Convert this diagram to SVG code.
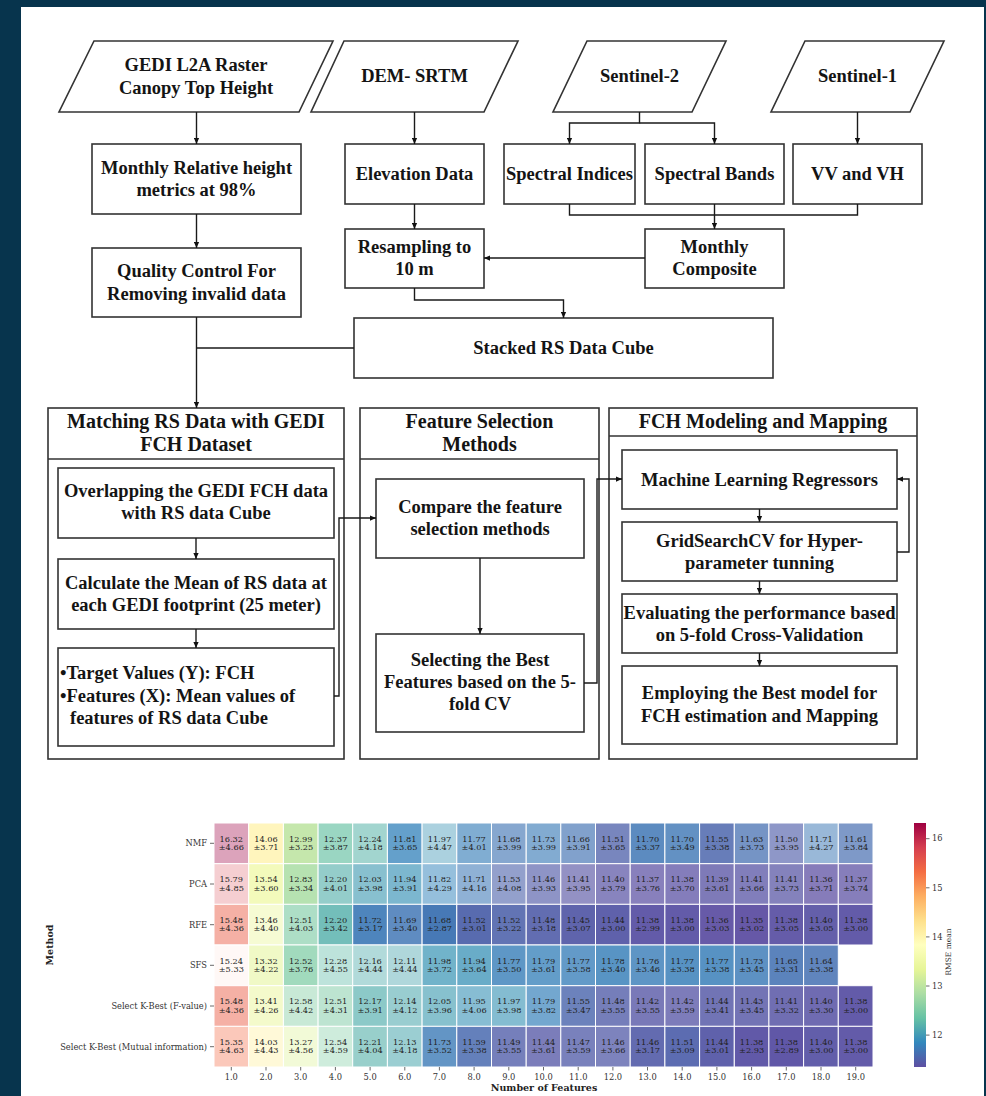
<svg xmlns="http://www.w3.org/2000/svg" width="986" height="1096" viewBox="0 0 986 1096">
<defs>
<style>
.t{font-family:"Liberation Serif","Times New Roman",serif;font-weight:bold;font-size:18.5px;fill:#141414;text-anchor:middle}
.tl{text-anchor:start}
.h{font-size:20px}
.box{fill:#fff;stroke:#333;stroke-width:1.6}
.ln{fill:none;stroke:#1a1a1a;stroke-width:1.4}
.arr{marker-end:url(#ah)}
.cell{stroke:#fff;stroke-width:1}
.v{font-family:"DejaVu Serif",serif;font-size:8.2px;fill:#222;text-anchor:middle}
.ax{font-family:"DejaVu Serif",serif;font-size:8.3px;fill:#333}
.axr{text-anchor:end}
.axc{text-anchor:middle}
.tick{stroke:#444;stroke-width:0.8}
.lab{font-family:"DejaVu Serif",serif;font-weight:bold;font-size:9.5px;fill:#222;text-anchor:middle}
</style>
<marker id="ah" viewBox="0 0 8 8" refX="8" refY="4" markerWidth="6" markerHeight="6" orient="auto" markerUnits="userSpaceOnUse">
<path d="M0,0.5 L8,4 L0,7.5 z" fill="#111"/>
</marker>
<linearGradient id="spectral" x1="0" y1="1" x2="0" y2="0">
<stop offset="0" stop-color="#5e4fa2"/>
<stop offset="0.1" stop-color="#3288bd"/>
<stop offset="0.2" stop-color="#66c2a5"/>
<stop offset="0.3" stop-color="#abdda4"/>
<stop offset="0.4" stop-color="#e6f598"/>
<stop offset="0.5" stop-color="#ffffbf"/>
<stop offset="0.6" stop-color="#fee08b"/>
<stop offset="0.7" stop-color="#fdae61"/>
<stop offset="0.8" stop-color="#f46d43"/>
<stop offset="0.9" stop-color="#d53e4f"/>
<stop offset="1" stop-color="#9e0142"/>
</linearGradient>
</defs>

<!-- page -->
<rect width="986" height="1096" fill="#07344d"/>
<rect x="21" y="7" width="963" height="1089" fill="#fff"/>

<!-- data sources -->
<g id="gedi">
<polygon class="box" points="94,41 333,41 299,112 59,112"/>
<text class="t" x="196" y="71">GEDI L2A Raster</text>
<text class="t" x="196" y="94">Canopy Top Height</text>
</g>
<g id="dem">
<polygon class="box" points="344,41 518,41 484,112 311,112"/>
<text class="t" x="414.5" y="82">DEM- SRTM</text>
</g>
<g id="s2">
<polygon class="box" points="587,41 726,41 692,112 553,112"/>
<text class="t" x="639.5" y="82">Sentinel-2</text>
</g>
<g id="s1">
<polygon class="box" points="805,41 944,41 910,112 771,112"/>
<text class="t" x="857.5" y="82">Sentinel-1</text>
</g>

<!-- preprocessing -->
<g id="rh98">
<rect class="box" x="92" y="144" width="209" height="70"/>
<text class="t" x="196.5" y="174">Monthly Relative height</text>
<text class="t" x="196.5" y="196">metrics at 98%</text>
</g>
<g id="elev">
<rect class="box" x="345" y="144" width="139" height="60"/>
<text class="t" x="414.5" y="180">Elevation Data</text>
</g>
<g id="indices">
<rect class="box" x="504" y="144" width="131" height="60"/>
<text class="t" x="569.5" y="180">Spectral Indices</text>
</g>
<g id="bands">
<rect class="box" x="645" y="144" width="139" height="60"/>
<text class="t" x="714.5" y="180">Spectral Bands</text>
</g>
<g id="vvvh">
<rect class="box" x="793" y="144" width="129" height="60"/>
<text class="t" x="857.5" y="180">VV and VH</text>
</g>
<g id="qc">
<rect class="box" x="92" y="248" width="209" height="69"/>
<text class="t" x="196.5" y="277">Quality Control For</text>
<text class="t" x="196.5" y="300">Removing invalid data</text>
</g>
<g id="resample">
<rect class="box" x="345" y="229" width="139" height="59"/>
<text class="t" x="414.5" y="253">Resampling to</text>
<text class="t" x="414.5" y="275">10 m</text>
</g>
<g id="composite">
<rect class="box" x="645" y="229" width="139" height="59"/>
<text class="t" x="714.5" y="253">Monthly</text>
<text class="t" x="714.5" y="275">Composite</text>
</g>
<g id="cube">
<rect class="box" x="354" y="318" width="419" height="60"/>
<text class="t" x="563.5" y="354">Stacked RS Data Cube</text>
</g>

<!-- stage panels -->
<g id="matching">
<rect class="box" x="48" y="408" width="296" height="351"/>
<line class="box" x1="48" y1="459" x2="344" y2="459"/>
<text class="t h" x="196" y="428">Matching RS Data with GEDI</text>
<text class="t h" x="196" y="451">FCH Dataset</text>
</g>
<g id="overlap">
<rect class="box" x="58" y="468" width="276" height="70"/>
<text class="t" x="196" y="497">Overlapping the GEDI FCH data</text>
<text class="t" x="196" y="519">with RS data Cube</text>
</g>
<g id="mean">
<rect class="box" x="58" y="559" width="276" height="70"/>
<text class="t" x="196" y="589">Calculate the Mean of RS data at</text>
<text class="t" x="196" y="611">each GEDI footprint (25 meter)</text>
</g>
<g id="xy">
<rect class="box" x="58" y="648" width="276" height="98"/>
<text class="t tl" x="60" y="679">•Target Values (Y): FCH</text>
<text class="t tl" x="60" y="702">•Features (X): Mean values of</text>
<text class="t tl" x="70" y="724">features of RS data Cube</text>
</g>

<g id="selection">
<rect class="box" x="360" y="408" width="239" height="351"/>
<line class="box" x1="360" y1="459" x2="599" y2="459"/>
<text class="t h" x="479.5" y="428">Feature Selection</text>
<text class="t h" x="479.5" y="451">Methods</text>
</g>
<g id="compare">
<rect class="box" x="376" y="479" width="208" height="79"/>
<text class="t" x="480" y="513">Compare the feature</text>
<text class="t" x="480" y="535">selection methods</text>
</g>
<g id="best">
<rect class="box" x="376" y="634" width="208" height="98"/>
<text class="t" x="480" y="666">Selecting the Best</text>
<text class="t" x="480" y="688">Features based on the 5-</text>
<text class="t" x="480" y="710">fold CV</text>
</g>

<g id="modeling">
<rect class="box" x="609" y="408" width="308" height="351"/>
<line class="box" x1="609" y1="436" x2="917" y2="436"/>
<text class="t h" x="763" y="428">FCH Modeling and Mapping</text>
</g>
<g id="ml">
<rect class="box" x="622" y="450" width="275" height="59"/>
<text class="t" x="759.5" y="486">Machine Learning Regressors</text>
</g>
<g id="grid">
<rect class="box" x="622" y="522" width="275" height="59"/>
<text class="t" x="759.5" y="547">GridSearchCV for Hyper-</text>
<text class="t" x="759.5" y="569">parameter tunning</text>
</g>
<g id="cv">
<rect class="box" x="622" y="594" width="275" height="59"/>
<text class="t" x="759.5" y="619">Evaluating the performance based</text>
<text class="t" x="759.5" y="641">on 5-fold Cross-Validation</text>
</g>
<g id="map">
<rect class="box" x="622" y="666" width="275" height="78"/>
<text class="t" x="759.5" y="699">Employing the Best model for</text>
<text class="t" x="759.5" y="722">FCH estimation and Mapping</text>
</g>

<!-- connectors -->
<g id="connectors">
<path class="ln arr" d="M196.5,112 V144"/>
<path class="ln arr" d="M414.5,112 V144"/>
<path class="ln arr" d="M639.5,112 V123 H569.5 V144"/>
<path class="ln arr" d="M639.5,123 H714.5 V144"/>
<path class="ln arr" d="M857.5,112 V144"/>
<path class="ln" d="M569.5,204 V215 H857.5 V204"/>
<path class="ln arr" d="M714.5,204 V229"/>
<path class="ln arr" d="M645,258 H484"/>
<path class="ln arr" d="M414.5,204 V229"/>
<path class="ln arr" d="M414.5,288 V300 H563.5 V318"/>
<path class="ln arr" d="M196.5,214 V248"/>
<path class="ln arr" d="M196.5,317 V408"/>
<path class="ln" d="M354,348 H196.5"/>
<path class="ln arr" d="M196,538 V559"/>
<path class="ln arr" d="M196,629 V648"/>
<path class="ln arr" d="M334,696 H339 V518 H376"/>
<path class="ln arr" d="M480,558 V634"/>
<path class="ln arr" d="M584,683 H597 V479 H622"/>
<path class="ln arr" d="M759.5,509 V522"/>
<path class="ln arr" d="M759.5,581 V594"/>
<path class="ln arr" d="M759.5,653 V666"/>
<path class="ln arr" d="M897,552 H909 V479 H897"/>
</g>

<!-- heatmap: mean RMSE (colour) and std (opacity) per method and feature count -->
<g id="heatmap">
<g id="row-nmf" transform="translate(0,823)">
<rect class="cell" x="214" y="0" width="34.7" height="40.7" fill="#9e0142" fill-opacity=".36"/><text class="v" x="231.3" y="18.8">16.32<tspan x="231.3" dy="8.4">±4.66</tspan></text>
<rect class="cell" x="248.7" y="0" width="34.7" height="40.7" fill="#fff1a7" fill-opacity=".75"/><text class="v" x="266" y="18.8">14.06<tspan x="266" dy="8.4">±3.71</tspan></text>
<rect class="cell" x="283.4" y="0" width="34.7" height="40.7" fill="#bde4a0" fill-opacity=".88"/><text class="v" x="300.7" y="18.8">12.99<tspan x="300.7" dy="8.4">±3.25</tspan></text>
<rect class="cell" x="318.1" y="0" width="34.7" height="40.7" fill="#6ac3a5" fill-opacity=".68"/><text class="v" x="335.4" y="18.8">12.37<tspan x="335.4" dy="8.4">±3.87</tspan></text>
<rect class="cell" x="352.7" y="0" width="34.7" height="40.7" fill="#5bb6aa" fill-opacity=".57"/><text class="v" x="370.1" y="18.8">12.24<tspan x="370.1" dy="8.4">±4.18</tspan></text>
<rect class="cell" x="387.4" y="0" width="34.7" height="40.7" fill="#3584bb" fill-opacity=".77"/><text class="v" x="404.8" y="18.8">11.81<tspan x="404.8" dy="8.4">±3.65</tspan></text>
<rect class="cell" x="422.1" y="0" width="34.7" height="40.7" fill="#3f96b7" fill-opacity=".44"/><text class="v" x="439.4" y="18.8">11.97<tspan x="439.4" dy="8.4">±4.47</tspan></text>
<rect class="cell" x="456.8" y="0" width="34.7" height="40.7" fill="#397fb9" fill-opacity=".64"/><text class="v" x="474.1" y="18.8">11.77<tspan x="474.1" dy="8.4">±4.01</tspan></text>
<rect class="cell" x="491.5" y="0" width="34.7" height="40.7" fill="#4175b4" fill-opacity=".64"/><text class="v" x="508.8" y="18.8">11.68<tspan x="508.8" dy="8.4">±3.99</tspan></text>
<rect class="cell" x="526.2" y="0" width="34.7" height="40.7" fill="#3c7bb7" fill-opacity=".64"/><text class="v" x="543.5" y="18.8">11.73<tspan x="543.5" dy="8.4">±3.99</tspan></text>
<rect class="cell" x="560.8" y="0" width="34.7" height="40.7" fill="#4373b3" fill-opacity=".67"/><text class="v" x="578.2" y="18.8">11.66<tspan x="578.2" dy="8.4">±3.91</tspan></text>
<rect class="cell" x="595.5" y="0" width="34.7" height="40.7" fill="#5061ab" fill-opacity=".77"/><text class="v" x="612.9" y="18.8">11.51<tspan x="612.9" dy="8.4">±3.65</tspan></text>
<rect class="cell" x="630.2" y="0" width="34.7" height="40.7" fill="#3f77b5" fill-opacity=".85"/><text class="v" x="647.5" y="18.8">11.70<tspan x="647.5" dy="8.4">±3.37</tspan></text>
<rect class="cell" x="664.9" y="0" width="34.7" height="40.7" fill="#3f77b5" fill-opacity=".81"/><text class="v" x="682.2" y="18.8">11.70<tspan x="682.2" dy="8.4">±3.49</tspan></text>
<rect class="cell" x="699.6" y="0" width="34.7" height="40.7" fill="#4c66ad" fill-opacity=".85"/><text class="v" x="716.9" y="18.8">11.55<tspan x="716.9" dy="8.4">±3.38</tspan></text>
<rect class="cell" x="734.3" y="0" width="34.7" height="40.7" fill="#456fb1" fill-opacity=".74"/><text class="v" x="751.6" y="18.8">11.63<tspan x="751.6" dy="8.4">±3.73</tspan></text>
<rect class="cell" x="768.9" y="0" width="34.7" height="40.7" fill="#5160aa" fill-opacity=".65"/><text class="v" x="786.3" y="18.8">11.50<tspan x="786.3" dy="8.4">±3.95</tspan></text>
<rect class="cell" x="803.6" y="0" width="34.7" height="40.7" fill="#3e78b6" fill-opacity=".53"/><text class="v" x="821" y="18.8">11.71<tspan x="821" dy="8.4">±4.27</tspan></text>
<rect class="cell" x="838.3" y="0" width="34.7" height="40.7" fill="#476db0" fill-opacity=".70"/><text class="v" x="855.7" y="18.8">11.61<tspan x="855.7" dy="8.4">±3.84</tspan></text>
</g>
<g id="row-pca" transform="translate(0,863.7)">
<rect class="cell" x="214" y="0" width="34.7" height="40.7" fill="#d7414e" fill-opacity=".26"/><text class="v" x="231.3" y="18.8">15.79<tspan x="231.3" dy="8.4">±4.85</tspan></text>
<rect class="cell" x="248.7" y="0" width="34.7" height="40.7" fill="#f0f9a8" fill-opacity=".78"/><text class="v" x="266" y="18.8">13.54<tspan x="266" dy="8.4">±3.60</tspan></text>
<rect class="cell" x="283.4" y="0" width="34.7" height="40.7" fill="#aadda4" fill-opacity=".86"/><text class="v" x="300.7" y="18.8">12.83<tspan x="300.7" dy="8.4">±3.34</tspan></text>
<rect class="cell" x="318.1" y="0" width="34.7" height="40.7" fill="#57b1ac" fill-opacity=".64"/><text class="v" x="335.4" y="18.8">12.20<tspan x="335.4" dy="8.4">±4.01</tspan></text>
<rect class="cell" x="352.7" y="0" width="34.7" height="40.7" fill="#459db4" fill-opacity=".64"/><text class="v" x="370.1" y="18.8">12.03<tspan x="370.1" dy="8.4">±3.98</tspan></text>
<rect class="cell" x="387.4" y="0" width="34.7" height="40.7" fill="#3c93b8" fill-opacity=".67"/><text class="v" x="404.8" y="18.8">11.94<tspan x="404.8" dy="8.4">±3.91</tspan></text>
<rect class="cell" x="422.1" y="0" width="34.7" height="40.7" fill="#3485bc" fill-opacity=".52"/><text class="v" x="439.4" y="18.8">11.82<tspan x="439.4" dy="8.4">±4.29</tspan></text>
<rect class="cell" x="456.8" y="0" width="34.7" height="40.7" fill="#3e78b6" fill-opacity=".58"/><text class="v" x="474.1" y="18.8">11.71<tspan x="474.1" dy="8.4">±4.16</tspan></text>
<rect class="cell" x="491.5" y="0" width="34.7" height="40.7" fill="#4e64ac" fill-opacity=".61"/><text class="v" x="508.8" y="18.8">11.53<tspan x="508.8" dy="8.4">±4.08</tspan></text>
<rect class="cell" x="526.2" y="0" width="34.7" height="40.7" fill="#545ca8" fill-opacity=".66"/><text class="v" x="543.5" y="18.8">11.46<tspan x="543.5" dy="8.4">±3.93</tspan></text>
<rect class="cell" x="560.8" y="0" width="34.7" height="40.7" fill="#5956a5" fill-opacity=".65"/><text class="v" x="578.2" y="18.8">11.41<tspan x="578.2" dy="8.4">±3.95</tspan></text>
<rect class="cell" x="595.5" y="0" width="34.7" height="40.7" fill="#5a55a5" fill-opacity=".72"/><text class="v" x="612.9" y="18.8">11.40<tspan x="612.9" dy="8.4">±3.79</tspan></text>
<rect class="cell" x="630.2" y="0" width="34.7" height="40.7" fill="#5c51a3" fill-opacity=".73"/><text class="v" x="647.5" y="18.8">11.37<tspan x="647.5" dy="8.4">±3.76</tspan></text>
<rect class="cell" x="664.9" y="0" width="34.7" height="40.7" fill="#5b52a4" fill-opacity=".75"/><text class="v" x="682.2" y="18.8">11.38<tspan x="682.2" dy="8.4">±3.70</tspan></text>
<rect class="cell" x="699.6" y="0" width="34.7" height="40.7" fill="#5a54a4" fill-opacity=".78"/><text class="v" x="716.9" y="18.8">11.39<tspan x="716.9" dy="8.4">±3.61</tspan></text>
<rect class="cell" x="734.3" y="0" width="34.7" height="40.7" fill="#5956a5" fill-opacity=".76"/><text class="v" x="751.6" y="18.8">11.41<tspan x="751.6" dy="8.4">±3.66</tspan></text>
<rect class="cell" x="768.9" y="0" width="34.7" height="40.7" fill="#5956a5" fill-opacity=".74"/><text class="v" x="786.3" y="18.8">11.41<tspan x="786.3" dy="8.4">±3.73</tspan></text>
<rect class="cell" x="803.6" y="0" width="34.7" height="40.7" fill="#5d50a3" fill-opacity=".75"/><text class="v" x="821" y="18.8">11.36<tspan x="821" dy="8.4">±3.71</tspan></text>
<rect class="cell" x="838.3" y="0" width="34.7" height="40.7" fill="#5c51a3" fill-opacity=".74"/><text class="v" x="855.7" y="18.8">11.37<tspan x="855.7" dy="8.4">±3.74</tspan></text>
</g>
<g id="row-rfe" transform="translate(0,904.3)">
<rect class="cell" x="214" y="0" width="34.7" height="40.7" fill="#ea5e47" fill-opacity=".49"/><text class="v" x="231.3" y="18.8">15.48<tspan x="231.3" dy="8.4">±4.36</tspan></text>
<rect class="cell" x="248.7" y="0" width="34.7" height="40.7" fill="#ecf7a2" fill-opacity=".47"/><text class="v" x="266" y="18.8">13.46<tspan x="266" dy="8.4">±4.40</tspan></text>
<rect class="cell" x="283.4" y="0" width="34.7" height="40.7" fill="#7dcba5" fill-opacity=".63"/><text class="v" x="300.7" y="18.8">12.51<tspan x="300.7" dy="8.4">±4.03</tspan></text>
<rect class="cell" x="318.1" y="0" width="34.7" height="40.7" fill="#57b1ac" fill-opacity=".83"/><text class="v" x="335.4" y="18.8">12.20<tspan x="335.4" dy="8.4">±3.42</tspan></text>
<rect class="cell" x="352.7" y="0" width="34.7" height="40.7" fill="#3d79b6" fill-opacity=".91"/><text class="v" x="370.1" y="18.8">11.72<tspan x="370.1" dy="8.4">±3.17</tspan></text>
<rect class="cell" x="387.4" y="0" width="34.7" height="40.7" fill="#4076b5" fill-opacity=".84"/><text class="v" x="404.8" y="18.8">11.69<tspan x="404.8" dy="8.4">±3.40</tspan></text>
<rect class="cell" x="422.1" y="0" width="34.7" height="40.7" fill="#4175b4" fill-opacity=".97"/><text class="v" x="439.4" y="18.8">11.68<tspan x="439.4" dy="8.4">±2.87</tspan></text>
<rect class="cell" x="456.8" y="0" width="34.7" height="40.7" fill="#4f63ab" fill-opacity=".95"/><text class="v" x="474.1" y="18.8">11.52<tspan x="474.1" dy="8.4">±3.01</tspan></text>
<rect class="cell" x="491.5" y="0" width="34.7" height="40.7" fill="#4f63ab" fill-opacity=".89"/><text class="v" x="508.8" y="18.8">11.52<tspan x="508.8" dy="8.4">±3.22</tspan></text>
<rect class="cell" x="526.2" y="0" width="34.7" height="40.7" fill="#525ea9" fill-opacity=".91"/><text class="v" x="543.5" y="18.8">11.48<tspan x="543.5" dy="8.4">±3.18</tspan></text>
<rect class="cell" x="560.8" y="0" width="34.7" height="40.7" fill="#555aa7" fill-opacity=".94"/><text class="v" x="578.2" y="18.8">11.45<tspan x="578.2" dy="8.4">±3.07</tspan></text>
<rect class="cell" x="595.5" y="0" width="34.7" height="40.7" fill="#5659a7" fill-opacity=".95"/><text class="v" x="612.9" y="18.8">11.44<tspan x="612.9" dy="8.4">±3.00</tspan></text>
<rect class="cell" x="630.2" y="0" width="34.7" height="40.7" fill="#5b52a4" fill-opacity=".95"/><text class="v" x="647.5" y="18.8">11.38<tspan x="647.5" dy="8.4">±2.99</tspan></text>
<rect class="cell" x="664.9" y="0" width="34.7" height="40.7" fill="#5b52a4" fill-opacity=".95"/><text class="v" x="682.2" y="18.8">11.38<tspan x="682.2" dy="8.4">±3.00</tspan></text>
<rect class="cell" x="699.6" y="0" width="34.7" height="40.7" fill="#5d50a3" fill-opacity=".94"/><text class="v" x="716.9" y="18.8">11.36<tspan x="716.9" dy="8.4">±3.03</tspan></text>
<rect class="cell" x="734.3" y="0" width="34.7" height="40.7" fill="#5e4fa2" fill-opacity=".95"/><text class="v" x="751.6" y="18.8">11.35<tspan x="751.6" dy="8.4">±3.02</tspan></text>
<rect class="cell" x="768.9" y="0" width="34.7" height="40.7" fill="#5b52a4" fill-opacity=".94"/><text class="v" x="786.3" y="18.8">11.38<tspan x="786.3" dy="8.4">±3.05</tspan></text>
<rect class="cell" x="803.6" y="0" width="34.7" height="40.7" fill="#5a55a5" fill-opacity=".94"/><text class="v" x="821" y="18.8">11.40<tspan x="821" dy="8.4">±3.05</tspan></text>
<rect class="cell" x="838.3" y="0" width="34.7" height="40.7" fill="#5b52a4" fill-opacity=".95"/><text class="v" x="855.7" y="18.8">11.38<tspan x="855.7" dy="8.4">±3.00</tspan></text>
</g>
<g id="row-sfs" transform="translate(0,945)">
<rect class="cell" x="214" y="0" width="34.7" height="40.7" fill="#f67848" fill-opacity=".05"/><text class="v" x="231.3" y="18.8">15.24<tspan x="231.3" dy="8.4">±5.33</tspan></text>
<rect class="cell" x="248.7" y="0" width="34.7" height="40.7" fill="#e4f498" fill-opacity=".55"/><text class="v" x="266" y="18.8">13.32<tspan x="266" dy="8.4">±4.22</tspan></text>
<rect class="cell" x="283.4" y="0" width="34.7" height="40.7" fill="#7ecca5" fill-opacity=".73"/><text class="v" x="300.7" y="18.8">12.52<tspan x="300.7" dy="8.4">±3.76</tspan></text>
<rect class="cell" x="318.1" y="0" width="34.7" height="40.7" fill="#5fbaa8" fill-opacity=".41"/><text class="v" x="335.4" y="18.8">12.28<tspan x="335.4" dy="8.4">±4.55</tspan></text>
<rect class="cell" x="352.7" y="0" width="34.7" height="40.7" fill="#53adae" fill-opacity=".45"/><text class="v" x="370.1" y="18.8">12.16<tspan x="370.1" dy="8.4">±4.44</tspan></text>
<rect class="cell" x="387.4" y="0" width="34.7" height="40.7" fill="#4ea7b0" fill-opacity=".45"/><text class="v" x="404.8" y="18.8">12.11<tspan x="404.8" dy="8.4">±4.44</tspan></text>
<rect class="cell" x="422.1" y="0" width="34.7" height="40.7" fill="#4098b7" fill-opacity=".74"/><text class="v" x="439.4" y="18.8">11.98<tspan x="439.4" dy="8.4">±3.72</tspan></text>
<rect class="cell" x="456.8" y="0" width="34.7" height="40.7" fill="#3c93b8" fill-opacity=".77"/><text class="v" x="474.1" y="18.8">11.94<tspan x="474.1" dy="8.4">±3.64</tspan></text>
<rect class="cell" x="491.5" y="0" width="34.7" height="40.7" fill="#397fb9" fill-opacity=".81"/><text class="v" x="508.8" y="18.8">11.77<tspan x="508.8" dy="8.4">±3.50</tspan></text>
<rect class="cell" x="526.2" y="0" width="34.7" height="40.7" fill="#3782ba" fill-opacity=".78"/><text class="v" x="543.5" y="18.8">11.79<tspan x="543.5" dy="8.4">±3.61</tspan></text>
<rect class="cell" x="560.8" y="0" width="34.7" height="40.7" fill="#397fb9" fill-opacity=".79"/><text class="v" x="578.2" y="18.8">11.77<tspan x="578.2" dy="8.4">±3.58</tspan></text>
<rect class="cell" x="595.5" y="0" width="34.7" height="40.7" fill="#3880b9" fill-opacity=".84"/><text class="v" x="612.9" y="18.8">11.78<tspan x="612.9" dy="8.4">±3.40</tspan></text>
<rect class="cell" x="630.2" y="0" width="34.7" height="40.7" fill="#3a7eb8" fill-opacity=".82"/><text class="v" x="647.5" y="18.8">11.76<tspan x="647.5" dy="8.4">±3.46</tspan></text>
<rect class="cell" x="664.9" y="0" width="34.7" height="40.7" fill="#397fb9" fill-opacity=".85"/><text class="v" x="682.2" y="18.8">11.77<tspan x="682.2" dy="8.4">±3.38</tspan></text>
<rect class="cell" x="699.6" y="0" width="34.7" height="40.7" fill="#397fb9" fill-opacity=".85"/><text class="v" x="716.9" y="18.8">11.77<tspan x="716.9" dy="8.4">±3.38</tspan></text>
<rect class="cell" x="734.3" y="0" width="34.7" height="40.7" fill="#3c7bb7" fill-opacity=".83"/><text class="v" x="751.6" y="18.8">11.73<tspan x="751.6" dy="8.4">±3.45</tspan></text>
<rect class="cell" x="768.9" y="0" width="34.7" height="40.7" fill="#4371b2" fill-opacity=".87"/><text class="v" x="786.3" y="18.8">11.65<tspan x="786.3" dy="8.4">±3.31</tspan></text>
<rect class="cell" x="803.6" y="0" width="34.7" height="40.7" fill="#4470b2" fill-opacity=".85"/><text class="v" x="821" y="18.8">11.64<tspan x="821" dy="8.4">±3.38</tspan></text>
</g>
<g id="row-kbest-f" transform="translate(0,985.7)">
<rect class="cell" x="214" y="0" width="34.7" height="40.7" fill="#ea5e47" fill-opacity=".49"/><text class="v" x="231.3" y="18.8">15.48<tspan x="231.3" dy="8.4">±4.36</tspan></text>
<rect class="cell" x="248.7" y="0" width="34.7" height="40.7" fill="#eaf69e" fill-opacity=".54"/><text class="v" x="266" y="18.8">13.41<tspan x="266" dy="8.4">±4.26</tspan></text>
<rect class="cell" x="283.4" y="0" width="34.7" height="40.7" fill="#87cfa5" fill-opacity=".46"/><text class="v" x="300.7" y="18.8">12.58<tspan x="300.7" dy="8.4">±4.42</tspan></text>
<rect class="cell" x="318.1" y="0" width="34.7" height="40.7" fill="#7dcba5" fill-opacity=".51"/><text class="v" x="335.4" y="18.8">12.51<tspan x="335.4" dy="8.4">±4.31</tspan></text>
<rect class="cell" x="352.7" y="0" width="34.7" height="40.7" fill="#54aead" fill-opacity=".67"/><text class="v" x="370.1" y="18.8">12.17<tspan x="370.1" dy="8.4">±3.91</tspan></text>
<rect class="cell" x="387.4" y="0" width="34.7" height="40.7" fill="#51aaaf" fill-opacity=".59"/><text class="v" x="404.8" y="18.8">12.14<tspan x="404.8" dy="8.4">±4.12</tspan></text>
<rect class="cell" x="422.1" y="0" width="34.7" height="40.7" fill="#47a0b3" fill-opacity=".65"/><text class="v" x="439.4" y="18.8">12.05<tspan x="439.4" dy="8.4">±3.96</tspan></text>
<rect class="cell" x="456.8" y="0" width="34.7" height="40.7" fill="#3d94b8" fill-opacity=".62"/><text class="v" x="474.1" y="18.8">11.95<tspan x="474.1" dy="8.4">±4.06</tspan></text>
<rect class="cell" x="491.5" y="0" width="34.7" height="40.7" fill="#3f96b7" fill-opacity=".64"/><text class="v" x="508.8" y="18.8">11.97<tspan x="508.8" dy="8.4">±3.98</tspan></text>
<rect class="cell" x="526.2" y="0" width="34.7" height="40.7" fill="#3782ba" fill-opacity=".70"/><text class="v" x="543.5" y="18.8">11.79<tspan x="543.5" dy="8.4">±3.82</tspan></text>
<rect class="cell" x="560.8" y="0" width="34.7" height="40.7" fill="#4c66ad" fill-opacity=".82"/><text class="v" x="578.2" y="18.8">11.55<tspan x="578.2" dy="8.4">±3.47</tspan></text>
<rect class="cell" x="595.5" y="0" width="34.7" height="40.7" fill="#525ea9" fill-opacity=".80"/><text class="v" x="612.9" y="18.8">11.48<tspan x="612.9" dy="8.4">±3.55</tspan></text>
<rect class="cell" x="630.2" y="0" width="34.7" height="40.7" fill="#5857a6" fill-opacity=".80"/><text class="v" x="647.5" y="18.8">11.42<tspan x="647.5" dy="8.4">±3.55</tspan></text>
<rect class="cell" x="664.9" y="0" width="34.7" height="40.7" fill="#5857a6" fill-opacity=".78"/><text class="v" x="682.2" y="18.8">11.42<tspan x="682.2" dy="8.4">±3.59</tspan></text>
<rect class="cell" x="699.6" y="0" width="34.7" height="40.7" fill="#5659a7" fill-opacity=".84"/><text class="v" x="716.9" y="18.8">11.44<tspan x="716.9" dy="8.4">±3.41</tspan></text>
<rect class="cell" x="734.3" y="0" width="34.7" height="40.7" fill="#5758a6" fill-opacity=".83"/><text class="v" x="751.6" y="18.8">11.43<tspan x="751.6" dy="8.4">±3.45</tspan></text>
<rect class="cell" x="768.9" y="0" width="34.7" height="40.7" fill="#5956a5" fill-opacity=".86"/><text class="v" x="786.3" y="18.8">11.41<tspan x="786.3" dy="8.4">±3.32</tspan></text>
<rect class="cell" x="803.6" y="0" width="34.7" height="40.7" fill="#5a55a5" fill-opacity=".87"/><text class="v" x="821" y="18.8">11.40<tspan x="821" dy="8.4">±3.30</tspan></text>
<rect class="cell" x="838.3" y="0" width="34.7" height="40.7" fill="#5b52a4" fill-opacity=".95"/><text class="v" x="855.7" y="18.8">11.38<tspan x="855.7" dy="8.4">±3.00</tspan></text>
</g>
<g id="row-kbest-mi" transform="translate(0,1026.3)">
<rect class="cell" x="214" y="0" width="34.7" height="40.7" fill="#f36b44" fill-opacity=".37"/><text class="v" x="231.3" y="18.8">15.35<tspan x="231.3" dy="8.4">±4.63</tspan></text>
<rect class="cell" x="248.7" y="0" width="34.7" height="40.7" fill="#fff3ab" fill-opacity=".46"/><text class="v" x="266" y="18.8">14.03<tspan x="266" dy="8.4">±4.43</tspan></text>
<rect class="cell" x="283.4" y="0" width="34.7" height="40.7" fill="#def29a" fill-opacity=".40"/><text class="v" x="300.7" y="18.8">13.27<tspan x="300.7" dy="8.4">±4.56</tspan></text>
<rect class="cell" x="318.1" y="0" width="34.7" height="40.7" fill="#81cda5" fill-opacity=".39"/><text class="v" x="335.4" y="18.8">12.54<tspan x="335.4" dy="8.4">±4.59</tspan></text>
<rect class="cell" x="352.7" y="0" width="34.7" height="40.7" fill="#58b2ab" fill-opacity=".62"/><text class="v" x="370.1" y="18.8">12.21<tspan x="370.1" dy="8.4">±4.04</tspan></text>
<rect class="cell" x="387.4" y="0" width="34.7" height="40.7" fill="#50a9af" fill-opacity=".57"/><text class="v" x="404.8" y="18.8">12.13<tspan x="404.8" dy="8.4">±4.18</tspan></text>
<rect class="cell" x="422.1" y="0" width="34.7" height="40.7" fill="#3c7bb7" fill-opacity=".80"/><text class="v" x="439.4" y="18.8">11.73<tspan x="439.4" dy="8.4">±3.52</tspan></text>
<rect class="cell" x="456.8" y="0" width="34.7" height="40.7" fill="#496aaf" fill-opacity=".85"/><text class="v" x="474.1" y="18.8">11.59<tspan x="474.1" dy="8.4">±3.38</tspan></text>
<rect class="cell" x="491.5" y="0" width="34.7" height="40.7" fill="#525faa" fill-opacity=".80"/><text class="v" x="508.8" y="18.8">11.49<tspan x="508.8" dy="8.4">±3.55</tspan></text>
<rect class="cell" x="526.2" y="0" width="34.7" height="40.7" fill="#5659a7" fill-opacity=".78"/><text class="v" x="543.5" y="18.8">11.44<tspan x="543.5" dy="8.4">±3.61</tspan></text>
<rect class="cell" x="560.8" y="0" width="34.7" height="40.7" fill="#535da9" fill-opacity=".78"/><text class="v" x="578.2" y="18.8">11.47<tspan x="578.2" dy="8.4">±3.59</tspan></text>
<rect class="cell" x="595.5" y="0" width="34.7" height="40.7" fill="#545ca8" fill-opacity=".76"/><text class="v" x="612.9" y="18.8">11.46<tspan x="612.9" dy="8.4">±3.66</tspan></text>
<rect class="cell" x="630.2" y="0" width="34.7" height="40.7" fill="#545ca8" fill-opacity=".91"/><text class="v" x="647.5" y="18.8">11.46<tspan x="647.5" dy="8.4">±3.17</tspan></text>
<rect class="cell" x="664.9" y="0" width="34.7" height="40.7" fill="#5061ab" fill-opacity=".93"/><text class="v" x="682.2" y="18.8">11.51<tspan x="682.2" dy="8.4">±3.09</tspan></text>
<rect class="cell" x="699.6" y="0" width="34.7" height="40.7" fill="#5659a7" fill-opacity=".95"/><text class="v" x="716.9" y="18.8">11.44<tspan x="716.9" dy="8.4">±3.01</tspan></text>
<rect class="cell" x="734.3" y="0" width="34.7" height="40.7" fill="#5b52a4" fill-opacity=".96"/><text class="v" x="751.6" y="18.8">11.38<tspan x="751.6" dy="8.4">±2.93</tspan></text>
<rect class="cell" x="768.9" y="0" width="34.7" height="40.7" fill="#5b52a4" fill-opacity=".97"/><text class="v" x="786.3" y="18.8">11.38<tspan x="786.3" dy="8.4">±2.89</tspan></text>
<rect class="cell" x="803.6" y="0" width="34.7" height="40.7" fill="#5a55a5" fill-opacity=".95"/><text class="v" x="821" y="18.8">11.40<tspan x="821" dy="8.4">±3.00</tspan></text>
<rect class="cell" x="838.3" y="0" width="34.7" height="40.7" fill="#5b52a4" fill-opacity=".95"/><text class="v" x="855.7" y="18.8">11.38<tspan x="855.7" dy="8.4">±3.00</tspan></text>
</g>
</g>

<!-- axes -->
<g id="y-axis">
<path class="tick" d="M210,843.3 H214 M210,884 H214 M210,924.7 H214 M210,965.3 H214 M210,1006 H214 M210,1046.7 H214"/>
<text class="ax axr" x="207" y="846.2">NMF</text>
<text class="ax axr" x="207" y="886.9">PCA</text>
<text class="ax axr" x="207" y="927.6">RFE</text>
<text class="ax axr" x="207" y="968.2">SFS</text>
<text class="ax axr" x="207" y="1008.9">Select K-Best (F-value)</text>
<text class="ax axr" x="207" y="1049.6">Select K-Best (Mutual information)</text>
<text class="lab" transform="translate(53,945) rotate(-90)">Method</text>
</g>
<g id="x-axis">
<path class="tick" d="M231.3,1067 V1070.5 M266,1067 V1070.5 M300.7,1067 V1070.5 M335.4,1067 V1070.5 M370.1,1067 V1070.5 M404.8,1067 V1070.5 M439.4,1067 V1070.5 M474.1,1067 V1070.5 M508.8,1067 V1070.5 M543.5,1067 V1070.5 M578.2,1067 V1070.5 M612.9,1067 V1070.5 M647.5,1067 V1070.5 M682.2,1067 V1070.5 M716.9,1067 V1070.5 M751.6,1067 V1070.5 M786.3,1067 V1070.5 M821,1067 V1070.5 M855.7,1067 V1070.5"/>
<text class="ax axc" x="231.3" y="1079.5">1.0</text>
<text class="ax axc" x="266" y="1079.5">2.0</text>
<text class="ax axc" x="300.7" y="1079.5">3.0</text>
<text class="ax axc" x="335.4" y="1079.5">4.0</text>
<text class="ax axc" x="370.1" y="1079.5">5.0</text>
<text class="ax axc" x="404.8" y="1079.5">6.0</text>
<text class="ax axc" x="439.4" y="1079.5">7.0</text>
<text class="ax axc" x="474.1" y="1079.5">8.0</text>
<text class="ax axc" x="508.8" y="1079.5">9.0</text>
<text class="ax axc" x="543.5" y="1079.5">10.0</text>
<text class="ax axc" x="578.2" y="1079.5">11.0</text>
<text class="ax axc" x="612.9" y="1079.5">12.0</text>
<text class="ax axc" x="647.5" y="1079.5">13.0</text>
<text class="ax axc" x="682.2" y="1079.5">14.0</text>
<text class="ax axc" x="716.9" y="1079.5">15.0</text>
<text class="ax axc" x="751.6" y="1079.5">16.0</text>
<text class="ax axc" x="786.3" y="1079.5">17.0</text>
<text class="ax axc" x="821" y="1079.5">18.0</text>
<text class="ax axc" x="855.7" y="1079.5">19.0</text>
<text class="lab" x="544" y="1091">Number of Features</text>
</g>

<!-- colour bar -->
<g id="colorbar">
<rect x="914" y="823" width="12" height="244" fill="url(#spectral)"/>
<path class="tick" d="M926,838.7 H929.5 M926,887.8 H929.5 M926,936.9 H929.5 M926,986 H929.5 M926,1035.1 H929.5"/>
<text class="ax" x="932" y="841.4">16</text>
<text class="ax" x="932" y="890.5">15</text>
<text class="ax" x="932" y="939.6">14</text>
<text class="ax" x="932" y="988.7">13</text>
<text class="ax" x="932" y="1037.8">12</text>
<text class="ax axc" transform="translate(951,952) rotate(-90)" style="font-size:7.5px">RMSE mean</text>
</g>
</svg>
